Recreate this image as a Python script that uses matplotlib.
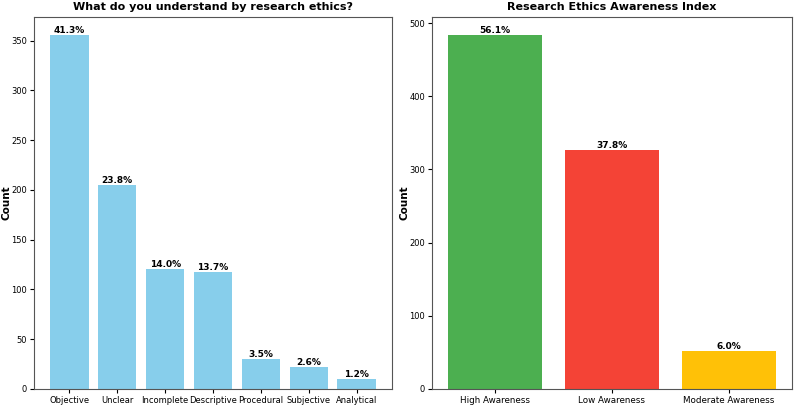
import matplotlib
matplotlib.use("Agg")
import matplotlib.pyplot as plt

# Left panel: understanding of research ethics
understanding_labels = ["Objective", "Unclear", "Incomplete", "Descriptive",
                        "Procedural", "Subjective", "Analytical"]
understanding_counts = [356, 205, 121, 118, 30, 22, 10]

# Right panel: awareness index
awareness_labels = ["High Awareness", "Low Awareness", "Moderate Awareness"]
awareness_counts = [484, 326, 52]
awareness_colors = ["#4CAF50", "#F44336", "#FFC107"]

plt.rcParams["font.family"] = "DejaVu Sans"

fig = plt.figure(figsize=(7.94, 4.07), dpi=100)
ax1 = fig.add_axes([34 / 794, 18 / 407, 358 / 794, 372 / 407])
ax2 = fig.add_axes([432 / 794, 18 / 407, 360 / 794, 372 / 407])


def draw(ax, labels, counts, color, title, xsize):
    total = sum(counts)
    bars = ax.bar(labels, counts, color=color)
    for b, c in zip(bars, counts):
        ax.text(b.get_x() + b.get_width() / 2, b.get_height(),
                f"{c / total * 100:.1f}%", ha="center", va="bottom",
                fontsize=6.5, fontweight="bold")
    ax.set_title(title, fontsize=8, fontweight="bold", pad=5)
    ax.set_ylabel("Count", fontsize=7.5, fontweight="bold")
    ax.yaxis.set_label_coords(-0.063, 0.5)
    ax.tick_params(axis="y", labelsize=6, length=3, pad=2)
    ax.tick_params(axis="x", labelsize=xsize, length=3, pad=2)
    for s in ax.spines.values():
        s.set_color("#555555")


draw(ax1, understanding_labels, understanding_counts, "skyblue",
     "What do you understand by research ethics?", 6)
draw(ax2, awareness_labels, awareness_counts, awareness_colors,
     "Research Ethics Awareness Index", 6.3)

fig.savefig("out.png", dpi=100)
